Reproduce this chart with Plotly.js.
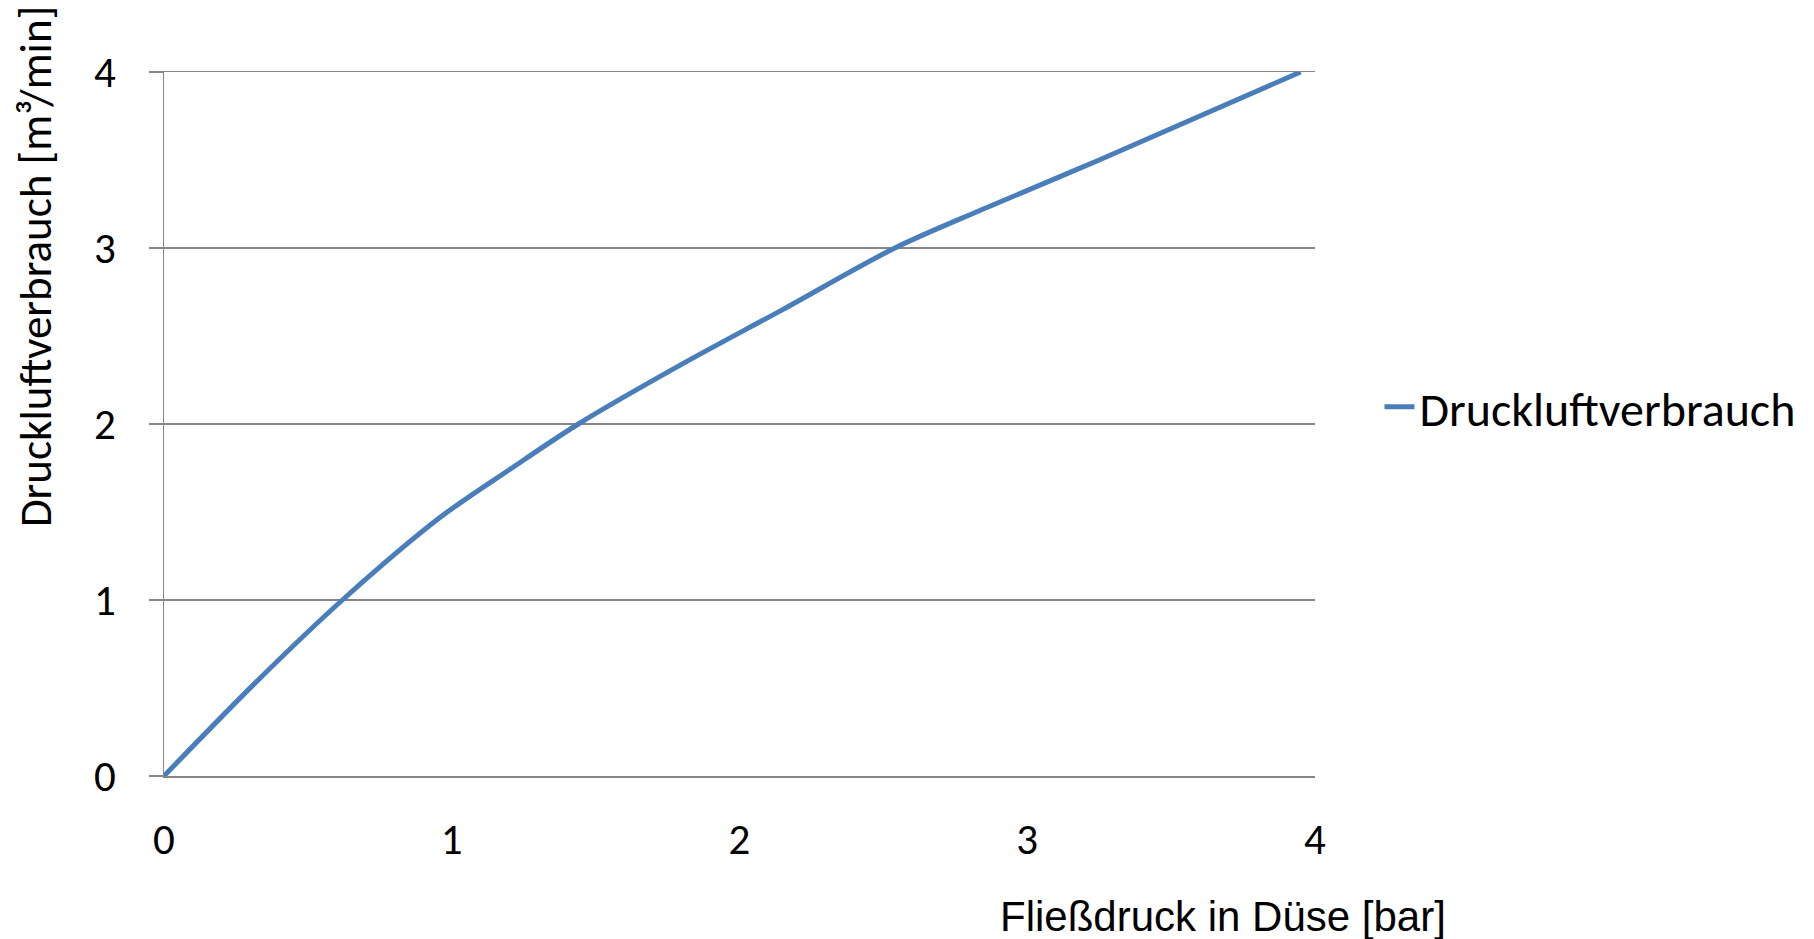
<!DOCTYPE html>
<html>
<head>
<meta charset="utf-8">
<script src="https://cdn.plot.ly/plotly-3.0.1.min.js"></script>
<style>html,body{margin:0;padding:0;background:#fff;}#chart{width:1814px;height:939px;}</style>
</head>
<body>
<div id="chart"></div>
<script>
// Fließdruck in Düse [bar]
const pressure = [0, 0.33, 0.62, 0.96, 1.20, 1.44, 1.80, 2.15, 2.54, 2.86, 3.25, 3.95];
// Druckluftverbrauch [m³/min]
const consumption = [0, 0.55, 1.0, 1.47, 1.74, 2.0, 2.34, 2.65, 3.0, 3.23, 3.50, 4.0];
const xTicks = [0, 1, 2, 3, 4];
const yTicks = [0, 1, 2, 3, 4];
const seriesName = 'Druckluftverbrauch';
const xTitle = 'Fließdruck in Düse [bar]';
const yTitle = 'Druckluftverbrauch [m³/min]';

const calibriLike = 'Carlito, Lato, sans-serif';
const grid = '#868686';

const trace = {
  x: pressure,
  y: consumption,
  type: 'scatter',
  mode: 'lines',
  name: seriesName,
  line: {color: '#4A7EBB', width: 5, shape: 'spline', smoothing: 0.9}
};

const layout = {
  width: 1814,
  height: 939,
  paper_bgcolor: '#ffffff',
  plot_bgcolor: '#ffffff',
  margin: {l: 164, r: 499, t: 72, b: 163},
  showlegend: true,
  legend: {
    x: 1.056, y: 0.524, xanchor: 'left', yanchor: 'middle',
    font: {family: calibriLike, size: 48, color: '#000'},
    bgcolor: 'rgba(0,0,0,0)'
  },
  xaxis: {
    range: [0, 4],
    tickvals: xTicks,
    ticktext: xTicks.map(String),
    showgrid: false,
    zeroline: false,
    showline: true,
    mirror: true,
    linecolor: grid,
    linewidth: 1.5,
    ticks: '',
    ticklabelstandoff: 25,
    tickfont: {family: calibriLike, size: 43, color: '#000'},
    fixedrange: true
  },
  yaxis: {
    range: [0, 4],
    tickvals: yTicks,
    ticktext: yTicks.map(String),
    showgrid: true,
    gridcolor: grid,
    gridwidth: 1.5,
    zeroline: false,
    showline: true,
    linecolor: grid,
    linewidth: 1.5,
    ticks: 'outside',
    ticklen: 14,
    tickcolor: grid,
    tickwidth: 1.5,
    ticklabelstandoff: 24,
    tickfont: {family: calibriLike, size: 43, color: '#000'},
    fixedrange: true
  },
  annotations: [
    {
      text: xTitle, xref: 'paper', yref: 'paper',
      x: 0.92, y: -0.2, xanchor: 'center', yanchor: 'middle',
      showarrow: false,
      font: {family: 'Liberation Sans, Arial, sans-serif', size: 42, color: '#000'}
    },
    {
      text: yTitle, xref: 'paper', yref: 'paper',
      x: -0.112, y: 0.723, xanchor: 'center', yanchor: 'middle',
      textangle: -90, showarrow: false,
      font: {family: calibriLike, size: 45, color: '#000'}
    }
  ]
};

Plotly.newPlot('chart', [trace], layout, {displayModeBar: false, staticPlot: true});
</script>
</body>
</html>
